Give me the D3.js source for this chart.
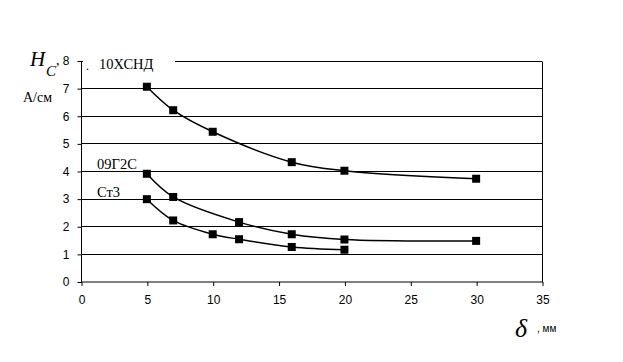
<!DOCTYPE html>
<html><head><meta charset="utf-8">
<script src="https://cdn.jsdelivr.net/npm/d3@7"></script>
<style>body{margin:0;background:#fff}svg{display:block}</style>
</head><body>
<script>
const xTicks = [0,5,10,15,20,25,30,35];
const yTicks = [0,1,2,3,4,5,6,7,8];
const seriesNames = ["10ХСНД","09Г2С","Ст3"];
const x10 = [5,7,10,16,20,30];
const y10 = [7.05,6.2,5.42,4.32,4.01,3.72];
const x09 = [5,7,12,16,20,30];
const y09 = [3.9,3.06,2.15,1.71,1.52,1.47];
const xSt = [5,7,10,12,16,20];
const ySt = [2.98,2.21,1.71,1.53,1.25,1.15];

const W=623,H=362;
const svg=d3.select("body").append("svg").attr("width",W).attr("height",H);
const x=d3.scaleLinear().domain([0,35]).range([81,542]);
const y=d3.scaleLinear().domain([0,8]).range([281.5,60.5]);

// gridlines
svg.append("g").selectAll("line").data(yTicks.filter(d=>d>0)).join("line")
 .attr("x1",x(0)).attr("x2",x(35)).attr("y1",d=>Math.round(y(d))+0.5).attr("y2",d=>Math.round(y(d))+0.5)
 .attr("stroke","#000").attr("stroke-width",1);
// right border
svg.append("line").attr("x1",x(35)+0.5).attr("x2",x(35)+0.5).attr("y1",Math.round(y(8))+0.5).attr("y2",Math.round(y(0))+0.5).attr("stroke","#000");

// axes
const yAxis=d3.axisLeft(y).tickValues(yTicks).tickSize(4).tickPadding(8).tickFormat(d3.format("d"));
const gy=svg.append("g").attr("transform","translate(81.5,0.5)").call(yAxis);
const xAxis=d3.axisBottom(x).tickValues(xTicks).tickSize(4).tickPadding(9).tickFormat(d3.format("d"));
const gx=svg.append("g").attr("transform","translate(0.5,282)").call(xAxis);
[gx,gy].forEach(g=>{
  g.selectAll("path").attr("stroke","#000").attr("stroke-width",1);
  g.selectAll("line").attr("stroke","#000");
  g.selectAll("text").attr("font-family","Liberation Sans, Arial, sans-serif").attr("font-size",12).attr("fill","#000");
});
gy.select(".domain").attr("d","M0,"+Math.round(y(0))+"V"+Math.round(y(8)));
gx.select(".domain").attr("d","M"+x(0)+",0H"+x(35));

// white label box covering top gridline
svg.append("rect").attr("x",83).attr("y",52).attr("width",92).attr("height",16).attr("fill","#fff");

const line=d3.line().x(d=>x(d[0])).y(d=>y(d[1])).curve(d3.curveCatmullRom.alpha(0.5));
const data=[d3.zip(x10,y10),d3.zip(x09,y09),d3.zip(xSt,ySt)];
data.forEach(s=>{
  svg.append("path").attr("d",line(s)).attr("fill","none").attr("stroke","#000").attr("stroke-width",1.5);
  svg.append("g").selectAll("rect").data(s).join("rect")
   .attr("x",d=>x(d[0])-4).attr("y",d=>y(d[1])-4).attr("width",8).attr("height",8).attr("fill","#000");
});

const serif="Liberation Serif, Times New Roman, serif";
// series labels
svg.append("text").attr("x",99).attr("y",69).attr("font-family",serif).attr("font-size",14.5).text(seriesNames[0]);
svg.append("text").attr("x",86).attr("y",70).attr("font-family",serif).attr("font-size",12).text(".");
svg.append("text").attr("x",97).attr("y",169).attr("font-family",serif).attr("font-size",14.5).text(seriesNames[1]);
svg.append("text").attr("x",97).attr("y",197).attr("font-family",serif).attr("font-size",14.5).text(seriesNames[2]);

// y axis title
svg.append("text").attr("x",30).attr("y",66).attr("font-family",serif).attr("font-style","italic").attr("font-size",21).text("H");
svg.append("text").attr("x",46).attr("y",76).attr("font-family",serif).attr("font-style","italic").attr("font-size",15).text("C");
svg.append("text").attr("x",56).attr("y",65).attr("font-family",serif).attr("font-size",14).text(",");
svg.append("text").attr("x",23).attr("y",102).attr("font-family",serif).attr("font-size",14).text("А/см");

// x axis title
svg.append("text").attr("x",515).attr("y",337).attr("font-family",serif).attr("font-style","italic").attr("font-size",26).text("δ");
svg.append("text").attr("x",537).attr("y",332).attr("font-family","Liberation Sans, Arial, sans-serif").attr("font-size",10).text(", мм");
</script>
</body></html>
